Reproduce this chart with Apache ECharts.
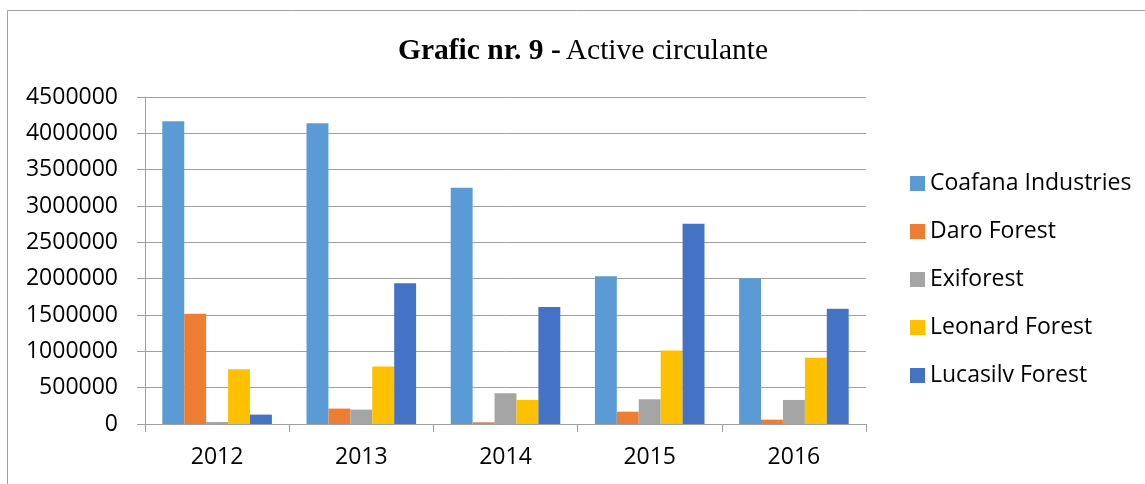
<!DOCTYPE html>
<html>
<head>
<meta charset="utf-8">
<script src="https://cdn.jsdelivr.net/npm/echarts@6/dist/echarts.min.js"></script>
<style>html,body{margin:0;padding:0;background:#fff}#c{width:1145px;height:484px}</style>
</head>
<body>
<div id="c"></div>
<script>
const categories = ['2012', '2013', '2014', '2015', '2016'];
const seriesNames = ['Coafana Industries', 'Daro Forest', 'Exiforest', 'Leonard Forest', 'Lucasilv Forest'];
const coafana = [4165000, 4140000, 3252000, 2033000, 2006000];
const daro = [1518000, 212000, 23000, 170000, 60000];
const exiforest = [27000, 198000, 423000, 340000, 331000];
const leonard = [754000, 791000, 331000, 1012000, 911000];
const lucasilv = [129000, 1937000, 1610000, 2755000, 1587000];
const yTicks = [0, 500000, 1000000, 1500000, 2000000, 2500000, 3000000, 3500000, 4000000, 4500000];
const colors = ['#5B9BD5', '#ED7D31', '#A5A5A5', '#FFC000', '#4472C4'];

const values = [coafana, daro, exiforest, leonard, lucasilv];
const chart = echarts.init(document.getElementById('c'));
const font = 'Open Sans';
chart.setOption({
  animation: false,
  color: colors,
  title: {
    text: '{b|Grafic nr. 9 -} {n|Active circulante}',
    left: 393, top: 32,
    textStyle: {
      rich: {
        b: { fontFamily: 'Liberation Serif', fontWeight: 'bold', fontSize: 29.5, color: '#000', lineHeight: 29 },
        n: { fontFamily: 'Liberation Serif', fontWeight: 'normal', fontSize: 29.5, color: '#000', lineHeight: 29 }
      }
    }
  },
  graphic: [{
    type: 'rect', silent: true, z: -1,
    shape: { x: 7.5, y: 10.5, width: 1300, height: 600 },
    style: { fill: 'none', stroke: '#a0a0a0', lineWidth: 1 }
  }],
  legend: {
    orient: 'vertical', left: 910, top: 172, padding: 0,
    icon: 'rect', itemWidth: 15, itemHeight: 15, itemGap: 25,
    textStyle: { fontFamily: font, fontSize: 23, lineHeight: 23, color: '#000' },
    data: seriesNames
  },
  grid: { left: 145, right: 279, top: 97, bottom: 60 },
  xAxis: {
    type: 'category', data: categories,
    axisLine: { lineStyle: { color: '#a0a0a0', width: 1 } },
    axisTick: { show: true, length: 8, lineStyle: { color: '#a0a0a0' } },
    axisLabel: { fontFamily: font, fontSize: 23, color: '#000', margin: 22 }
  },
  yAxis: {
    type: 'value', min: yTicks[0], max: yTicks[yTicks.length - 1], interval: 500000,
    axisLine: { show: true, lineStyle: { color: '#a0a0a0', width: 1 } },
    axisTick: { show: true, length: 8, lineStyle: { color: '#a0a0a0' } },
    splitLine: { show: true, lineStyle: { color: '#a0a0a0', width: 1 } },
    axisLabel: { fontFamily: font, fontSize: 23, color: '#000', margin: 27, formatter: v => String(v) }
  },
  series: seriesNames.map((n, i) => ({
    name: n, type: 'bar', data: values[i],
    barGap: '0%', barCategoryGap: '24%'
  }))
});
</script>
</body>
</html>
